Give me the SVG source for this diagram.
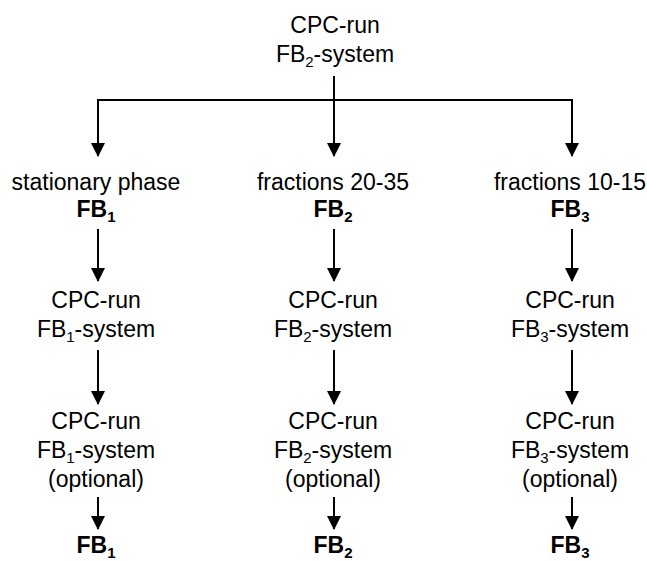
<svg xmlns="http://www.w3.org/2000/svg" width="647" height="561" viewBox="0 0 647 561">
<style>
text{font-family:"Liberation Sans",Arial,sans-serif;font-size:23px;fill:#000;text-anchor:middle}
.b{font-weight:bold}
.s{font-size:15px}
.c line{stroke:#000;stroke-width:2}
</style>
<defs>
<marker id="ah" markerUnits="userSpaceOnUse" markerWidth="14" markerHeight="14" refX="13" refY="7" orient="auto" viewBox="0 0 14 14">
<path d="M0,0 L14,7 L0,14 Z" fill="#000"/>
</marker>
</defs>
<rect width="647" height="561" fill="#fff"/>
<g id="top">
<text x="335" y="33">CPC-run</text>
<text x="335" y="62">FB<tspan class="s" dy="5">2</tspan><tspan dy="-5">-system</tspan></text>
</g>
<g id="l1"><text x="96" y="190">stationary phase</text><text class="b" x="96" y="217">FB<tspan class="s" dy="5">1</tspan></text></g>
<g id="m1"><text x="333" y="190">fractions 20-35</text><text class="b" x="333" y="217">FB<tspan class="s" dy="5">2</tspan></text></g>
<g id="r1"><text x="570" y="190">fractions 10-15</text><text class="b" x="570" y="217">FB<tspan class="s" dy="5">3</tspan></text></g>
<g id="l2"><text x="96" y="308">CPC-run</text><text x="96" y="337">FB<tspan class="s" dy="5">1</tspan><tspan dy="-5">-system</tspan></text></g>
<g id="m2"><text x="333" y="308">CPC-run</text><text x="333" y="337">FB<tspan class="s" dy="5">2</tspan><tspan dy="-5">-system</tspan></text></g>
<g id="r2"><text x="570" y="308">CPC-run</text><text x="570" y="337">FB<tspan class="s" dy="5">3</tspan><tspan dy="-5">-system</tspan></text></g>
<g id="l3"><text x="96" y="429">CPC-run</text><text x="96" y="458">FB<tspan class="s" dy="5">1</tspan><tspan dy="-5">-system</tspan></text><text x="96" y="487">(optional)</text></g>
<g id="m3"><text x="333" y="429">CPC-run</text><text x="333" y="458">FB<tspan class="s" dy="5">2</tspan><tspan dy="-5">-system</tspan></text><text x="333" y="487">(optional)</text></g>
<g id="r3"><text x="570" y="429">CPC-run</text><text x="570" y="458">FB<tspan class="s" dy="5">3</tspan><tspan dy="-5">-system</tspan></text><text x="570" y="487">(optional)</text></g>
<g id="l4"><text class="b" x="96" y="553">FB<tspan class="s" dy="5">1</tspan></text></g>
<g id="m4"><text class="b" x="333" y="553">FB<tspan class="s" dy="5">2</tspan></text></g>
<g id="r4"><text class="b" x="570" y="553">FB<tspan class="s" dy="5">3</tspan></text></g>
<g class="c" id="connectors">
<line x1="334" y1="76" x2="334" y2="100"/>
<line x1="97" y1="100" x2="573" y2="100"/>
<line x1="98" y1="100" x2="98" y2="156" marker-end="url(#ah)"/>
<line x1="334" y1="100" x2="334" y2="156" marker-end="url(#ah)"/>
<line x1="572" y1="100" x2="572" y2="156" marker-end="url(#ah)"/>
<line x1="98" y1="229" x2="98" y2="281" marker-end="url(#ah)"/>
<line x1="334" y1="229" x2="334" y2="281" marker-end="url(#ah)"/>
<line x1="572" y1="229" x2="572" y2="281" marker-end="url(#ah)"/>
<line x1="98" y1="350" x2="98" y2="404" marker-end="url(#ah)"/>
<line x1="334" y1="350" x2="334" y2="404" marker-end="url(#ah)"/>
<line x1="572" y1="350" x2="572" y2="404" marker-end="url(#ah)"/>
<line x1="98" y1="497" x2="98" y2="529" marker-end="url(#ah)"/>
<line x1="334" y1="497" x2="334" y2="529" marker-end="url(#ah)"/>
<line x1="572" y1="497" x2="572" y2="529" marker-end="url(#ah)"/>
</g>
</svg>
